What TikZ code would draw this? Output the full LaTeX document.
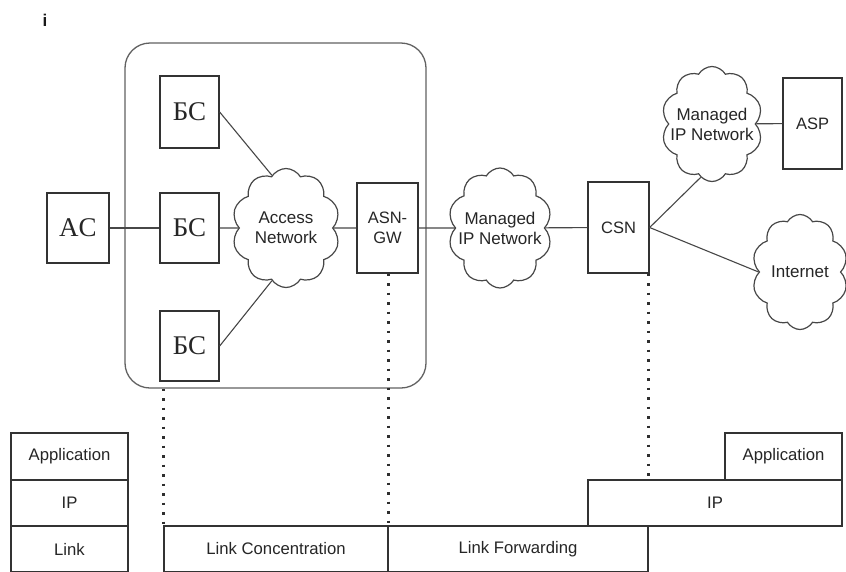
\documentclass[tikz,border=0pt]{standalone}
\usepackage{fontspec}
\setmainfont{Liberation Serif}
\newfontfamily\netsans{Liberation Sans}
\usetikzlibrary{shapes.symbols}

\tikzset{
  ink/.style={draw=black!80, line width=1.3pt},
  box/.style={ink, rectangle, inner sep=0pt, fill=white},
  cyrbox/.style={box, font=\rmfamily\fontsize{27}{27}\selectfont, text=black!85},
  netbox/.style={box, font=\netsans\fontsize{16.5}{20}\selectfont, text=black!85, align=center},
  netcloud/.style={draw=black!72, line width=1.2pt, cloud, cloud puffs=10, cloud puff arc=120,
    aspect=0.9, inner sep=0pt, fill=white},
  cloudtext/.style={align=center, font=\netsans\fontsize{17}{20}\selectfont, text=black!85},
  layer/.style={box, font=\netsans\fontsize{16.7}{20}\selectfont, text=black!85},
  link/.style={draw=black!72, line width=1.1pt},
  trace/.style={draw=black!82, line width=2.4pt, dash pattern=on 2.4pt off 7.1pt},
}

\begin{document}
\begin{tikzpicture}[x=1pt, y=-1pt]
  \useasboundingbox (0,0) rectangle (846,571);
  \clip (0,0) rectangle (846,571);
  \fill[white] (0,0) rectangle (846,571);

  % small mark in the corner
  \node[font=\netsans\bfseries\fontsize{17}{17}\selectfont, text=black!90] (mark) at (45,20) {i};

  % access service network enclosure
  \node[draw=black!62, line width=1.3pt, rounded corners=25pt, rectangle, inner sep=0pt,
        minimum width=301pt, minimum height=345pt] (asn) at (275.5,215.5) {};

  % terminals and base stations
  \node[cyrbox, minimum width=62pt, minimum height=70pt] (ac)  at (78,228)    {AC};
  \node[cyrbox, minimum width=59pt, minimum height=72pt] (bs1) at (189.5,112) {БС};
  \node[cyrbox, minimum width=59pt, minimum height=70pt] (bs2) at (189.5,228) {БС};
  \node[cyrbox, minimum width=59pt, minimum height=70pt] (bs3) at (189.5,346) {БС};

  % gateways and servers
  \node[netbox, minimum width=61pt, minimum height=90pt] (gw)  at (387.5,228)   {ASN-\\GW};
  \node[netbox, minimum width=61pt, minimum height=91pt] (csn) at (618.5,227.5) {CSN};
  \node[netbox, minimum width=59pt, minimum height=91pt] (asp) at (812.5,123.5) {ASP};

  % networks (outline sized independently of the label)
  \node[netcloud, minimum width=108pt, minimum height=119pt,
        label={[cloudtext]center:Access\\Network}] (acc)  at (286,228) {};
  \node[netcloud, minimum width=104pt, minimum height=120pt,
        label={[cloudtext]center:Managed\\IP Network}] (mip1) at (500,228) {};
  \node[netcloud, minimum width=101pt, minimum height=115pt,
        label={[cloudtext]center:Managed\\IP Network}] (mip2) at (712,124) {};
  \node[netcloud, minimum width=96pt,  minimum height=115pt,
        label={[cloudtext]center:Internet}] (inet) at (800,272) {};

  % connections
  \draw[link] (ac) -- (bs2);
  \draw[link] (bs2) -- (acc);
  \draw[link] (bs1.east) -- (acc.105);
  \draw[link] (bs3.east) -- (acc.255);
  \draw[link] (acc) -- (gw);
  \draw[link] (gw) -- (mip1);
  \draw[link] (mip1) -- (csn);
  \draw[link] (csn.east) -- (mip2.258);
  \draw[link] (csn.east) -- (inet.180);
  \draw[link] (mip2) -- (asp);

  % protocol stacks
  \node[layer, minimum width=117pt, minimum height=47pt] (lapp)  at (69.5,456.5) {Application};
  \node[layer, minimum width=117pt, minimum height=46pt] (lip)   at (69.5,503)   {IP};
  \node[layer, minimum width=117pt, minimum height=46pt] (llink) at (69.5,549)   {Link};
  \node[layer, minimum width=224pt, minimum height=46pt] (conc)  at (276,549)    {Link Concentration};
  \node[layer, minimum width=260pt, minimum height=46pt] (fwd)   at (518,549)    {Link Forwarding};
  \node[layer, minimum width=254pt, minimum height=46pt] (rip)   at (715,503)    {IP};
  \node[layer, minimum width=117pt, minimum height=47pt] (rapp)  at (783.5,456.5) {Application};

  % reference points down to the stacks
  \coordinate (bsdrop) at (conc.north west |- asn.south);
  \draw[trace] (bsdrop) -- (conc.north west);
  \draw[trace] (gw.south -| conc.north east) -- (conc.north east);
  \draw[trace] (csn.south -| fwd.north east) -- (fwd.north east |- rip.north);
\end{tikzpicture}
\end{document}
